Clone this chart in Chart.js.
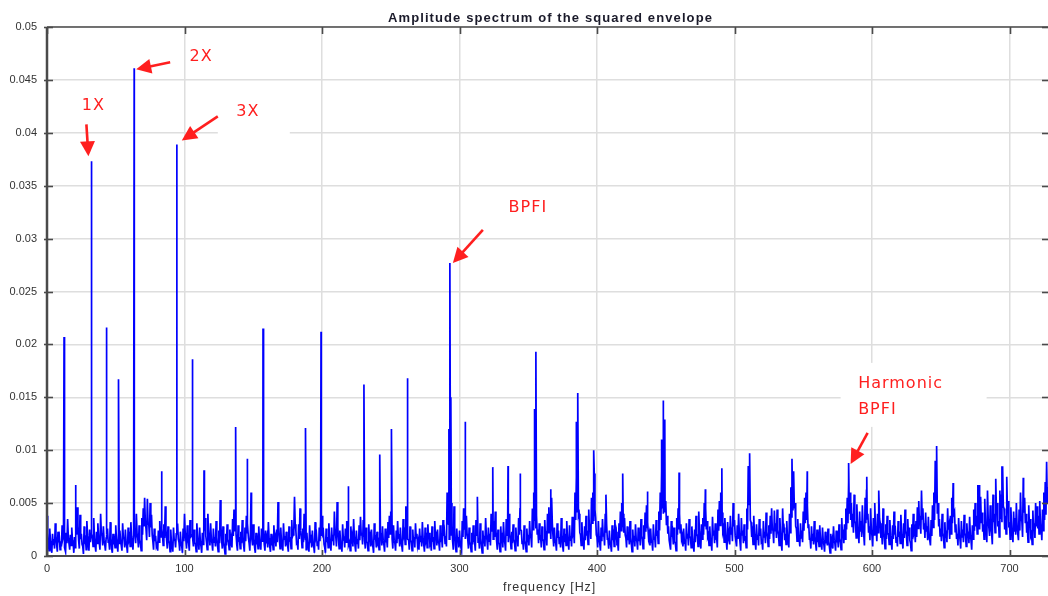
<!DOCTYPE html>
<html><head><meta charset="utf-8">
<script src="https://cdn.jsdelivr.net/npm/chart.js@4.4.1/dist/chart.umd.min.js"></script>
<style>html,body{margin:0;padding:0;background:#fff}#wrap{width:1048px;height:596px}</style>
</head><body><div id="wrap"><canvas id="c" width="1048" height="596"></canvas></div>
<script>
// ---------------- data ----------------
const chartTitle = 'Amplitude spectrum of the squared envelope';
const xAxisTitle = 'frequency [Hz]';

// noise floor of the spectrum, one value per Hz starting at 0 Hz
const freqStartHz = 0;
const freqStepHz = 1;
const noiseFloor = [
.0038,.0012,.0026,.0009,.0021,.0016,.0031,.0011,.0023,.0017,
.0014,.0029,.0019,.0008,.0022,.0035,.0012,.0020,.0027,.0013,
.0018,.0031,.0046,.0015,.0039,.0021,.0009,.0028,.0016,.0033,
.0012,.0025,.0020,.0018,.0036,.0010,.0023,.0031,.0013,.0040,
.0019,.0028,.0011,.0017,.0026,.0014,.0032,.0007,.0021,.0015,
.0029,.0012,.0022,.0024,.0010,.0031,.0016,.0025,.0009,.0027,
.0018,.0032,.0013,.0020,.0023,.0040,.0017,.0029,.0011,.0036,
.0045,.0055,.0026,.0054,.0031,.0050,.0039,.0014,.0026,.0019,
.0011,.0024,.0033,.0018,.0020,.0030,.0047,.0015,.0028,.0012,
.0025,.0010,.0027,.0016,.0021,.0030,.0013,.0023,.0009,.0026,
.0040,.0015,.0029,.0012,.0034,.0019,.0018,.0025,.0011,.0031,
.0014,.0027,.0009,.0022,.0017,.0036,.0013,.0040,.0020,.0031,
.0012,.0026,.0018,.0033,.0010,.0024,.0053,.0015,.0028,.0008,
.0021,.0030,.0013,.0025,.0017,.0035,.0044,.0024,.0011,.0029,
.0016,.0023,.0034,.0010,.0027,.0038,.0031,.0012,.0025,.0019,
.0030,.0008,.0022,.0015,.0028,.0013,.0026,.0037,.0011,.0024,
.0017,.0032,.0009,.0021,.0014,.0029,.0018,.0025,.0051,.0016,
.0027,.0012,.0031,.0019,.0023,.0010,.0028,.0016,.0034,.0020,
.0056,.0024,.0013,.0030,.0045,.0018,.0026,.0040,.0015,.0022,
.0011,.0029,.0017,.0024,.0009,.0032,.0020,.0014,.0027,.0035,
.0038,.0023,.0008,.0026,.0018,.0031,.0012,.0027,.0020,.0042,
.0019,.0051,.0015,.0024,.0011,.0030,.0017,.0026,.0033,.0021,
.0013,.0028,.0019,.0035,.0010,.0024,.0016,.0029,.0037,.0022,
.0034,.0015,.0027,.0012,.0030,.0019,.0025,.0009,.0031,.0018,
.0023,.0014,.0036,.0020,.0028,.0011,.0026,.0017,.0032,.0038,
.0042,.0016,.0029,.0012,.0024,.0033,.0019,.0027,.0010,.0035,
.0022,.0047,.0030,.0015,.0028,.0013,.0025,.0018,.0031,.0021,
.0014,.0026,.0019,.0032,.0011,.0027,.0017,.0030,.0022,.0013,
.0028,.0016,.0033,.0020,.0025,.0012,.0029,.0018,.0034,.0023,
.0019,.0060,.0030,.0036,.0050,.0014,.0047,.0010,.0026,.0018,
.0024,.0012,.0033,.0045,.0030,.0038,.0016,.0027,.0010,.0022,
.0029,.0013,.0034,.0025,.0017,.0031,.0009,.0024,.0019,.0036,
.0015,.0027,.0021,.0040,.0030,.0033,.0042,.0014,.0025,.0011,
.0028,.0018,.0032,.0012,.0035,.0026,.0040,.0016,.0023,.0030,
.0013,.0027,.0019,.0036,.0045,.0024,.0014,.0029,.0011,.0026,
.0020,.0033,.0017,.0045,.0060,.0047,.0038,.0025,.0031,.0018,
.0028,.0015,.0034,.0021,.0040,.0046,.0030,.0055,.0019,.0027,
.0012,.0031,.0024,.0018,.0036,.0010,.0026,.0021,.0033,.0015,
.0029,.0019,.0037,.0024,.0060,.0075,.0070,.0040,.0020,.0032,
.0014,.0028,.0038,.0022,.0044,.0030,.0055,.0060,.0078,.0036,
.0018,.0033,.0012,.0027,.0035,.0021,.0040,.0030,.0016,.0024,
.0010,.0029,.0019,.0034,.0023,.0013,.0031,.0042,.0050,.0040,
.0036,.0017,.0028,.0022,.0033,.0011,.0025,.0019,.0030,.0014,
.0027,.0020,.0035,.0016,.0029,.0041,.0048,.0032,.0021,.0026,
.0013,.0030,.0018,.0034,.0024,.0042,.0060,.0080,.0070,.0075,
.0052,.0038,.0028,.0015,.0033,.0022,.0027,.0012,.0036,.0045,
.0040,.0030,.0019,.0026,.0014,.0031,.0021,.0035,.0017,.0028,
.0011,.0025,.0038,.0019,.0042,.0016,.0030,.0036,.0050,.0045,
.0033,.0020,.0028,.0014,.0037,.0024,.0031,.0018,.0044,.0052,
.0060,.0041,.0026,.0036,.0015,.0032,.0022,.0038,.0027,.0050,
.0034,.0019,.0029,.0040,.0013,.0036,.0024,.0030,.0017,.0045,
.0085,.0060,.0032,.0022,.0038,.0015,.0030,.0020,.0035,.0026,
.0014,.0033,.0023,.0041,.0018,.0029,.0038,.0045,.0024,.0043,
.0031,.0044,.0020,.0036,.0012,.0045,.0027,.0021,.0033,.0016,
.0040,.0065,.0075,.0080,.0050,.0026,.0035,.0018,.0031,.0024,
.0042,.0055,.0060,.0048,.0030,.0016,.0028,.0021,.0033,.0012,
.0025,.0018,.0029,.0014,.0027,.0011,.0023,.0019,.0026,.0009,
.0021,.0015,.0028,.0012,.0024,.0017,.0030,.0013,.0036,.0022,
.0030,.0045,.0055,.0070,.0060,.0050,.0040,.0058,.0031,.0049,
.0024,.0042,.0033,.0048,.0020,.0055,.0062,.0040,.0028,.0045,
.0019,.0036,.0050,.0027,.0040,.0062,.0031,.0022,.0045,.0016,
.0030,.0038,.0021,.0034,.0014,.0029,.0042,.0025,.0018,.0033,
.0023,.0039,.0016,.0031,.0044,.0020,.0035,.0027,.0012,.0030,
.0040,.0025,.0033,.0046,.0052,.0038,.0062,.0045,.0031,.0041,
.0028,.0037,.0020,.0034,.0048,.0060,.0090,.0070,.0050,.0035,
.0026,.0040,.0018,.0032,.0024,.0045,.0029,.0038,.0055,.0069,
.0042,.0030,.0021,.0036,.0016,.0033,.0025,.0039,.0019,.0031,
.0023,.0037,.0015,.0029,.0044,.0050,.0038,.0067,.0045,.0056,
.0041,.0030,.0054,.0026,.0062,.0035,.0048,.0022,.0058,.0040,
.0073,.0050,.0033,.0062,.0058,.0084,.0045,.0038,.0075,.0052,
.0030,.0046,.0025,.0042,.0036,.0050,.0028,.0044,.0060,.0033,
.0074,.0055,.0040,.0026,.0048,.0035,.0021,.0043,.0031,.0050,
.0047,.0038,.0052,.0029,.0044,.0060,.0070,.0089,.0065,.0055
];

// noise floor at the half-Hz bins (0.5, 1.5, 2.5 ... Hz)
const noiseFloorHalf = [
.0022,.0005,.0014,.0003,.0011,.0007,.0019,.0004,.0013,.0006,
.0009,.0016,.0024,.0004,.0012,.0018,.0006,.0010,.0015,.0003,
.0008,.0020,.0028,.0007,.0016,.0011,.0002,.0014,.0006,.0019,
.0005,.0013,.0021,.0009,.0017,.0004,.0012,.0018,.0006,.0022,
.0010,.0015,.0005,.0020,.0013,.0006,.0017,.0003,.0011,.0008,
.0016,.0004,.0012,.0014,.0005,.0018,.0008,.0013,.0003,.0015,
.0009,.0018,.0006,.0025,.0012,.0021,.0008,.0016,.0005,.0020,
.0028,.0032,.0015,.0030,.0018,.0027,.0020,.0006,.0014,.0009,
.0005,.0013,.0019,.0026,.0010,.0017,.0025,.0007,.0015,.0004,
.0012,.0004,.0015,.0008,.0030,.0016,.0005,.0012,.0003,.0014,
.0022,.0007,.0016,.0005,.0018,.0020,.0009,.0013,.0004,.0017,
.0006,.0014,.0003,.0011,.0024,.0019,.0006,.0022,.0010,.0016,
.0005,.0013,.0009,.0018,.0004,.0012,.0028,.0007,.0014,.0002,
.0010,.0016,.0006,.0013,.0008,.0019,.0024,.0020,.0005,.0015,
.0007,.0012,.0018,.0004,.0014,.0022,.0017,.0005,.0024,.0010,
.0016,.0003,.0011,.0007,.0015,.0006,.0014,.0025,.0005,.0012,
.0008,.0017,.0004,.0010,.0006,.0015,.0009,.0013,.0027,.0007,
.0014,.0005,.0016,.0009,.0012,.0004,.0015,.0007,.0018,.0024,
.0030,.0012,.0006,.0016,.0024,.0008,.0013,.0022,.0006,.0011,
.0004,.0015,.0008,.0012,.0003,.0017,.0010,.0006,.0014,.0019,
.0021,.0011,.0003,.0013,.0008,.0016,.0005,.0014,.0010,.0023,
.0009,.0027,.0007,.0012,.0004,.0016,.0008,.0013,.0018,.0010,
.0005,.0015,.0009,.0019,.0004,.0012,.0007,.0015,.0020,.0011,
.0018,.0007,.0014,.0005,.0016,.0009,.0013,.0003,.0017,.0008,
.0012,.0006,.0019,.0010,.0015,.0004,.0013,.0008,.0017,.0021,
.0023,.0007,.0015,.0005,.0012,.0018,.0009,.0014,.0004,.0019,
.0011,.0026,.0016,.0006,.0015,.0005,.0013,.0008,.0017,.0010,
.0006,.0013,.0009,.0017,.0004,.0014,.0008,.0016,.0011,.0005,
.0015,.0007,.0018,.0010,.0013,.0005,.0016,.0008,.0019,.0012,
.0009,.0033,.0016,.0020,.0028,.0006,.0026,.0004,.0013,.0008,
.0012,.0005,.0018,.0025,.0016,.0021,.0007,.0014,.0004,.0011,
.0015,.0005,.0019,.0013,.0007,.0017,.0003,.0012,.0009,.0020,
.0006,.0014,.0010,.0023,.0016,.0018,.0024,.0006,.0013,.0004,
.0015,.0008,.0017,.0005,.0019,.0013,.0022,.0007,.0012,.0016,
.0005,.0014,.0009,.0020,.0025,.0012,.0006,.0015,.0004,.0013,
.0010,.0018,.0008,.0025,.0034,.0026,.0021,.0012,.0017,.0008,
.0015,.0006,.0019,.0010,.0022,.0026,.0016,.0031,.0009,.0014,
.0005,.0017,.0012,.0008,.0020,.0004,.0013,.0010,.0018,.0006,
.0015,.0009,.0021,.0012,.0034,.0042,.0038,.0022,.0010,.0017,
.0006,.0015,.0021,.0011,.0025,.0016,.0031,.0034,.0044,.0020,
.0008,.0018,.0005,.0014,.0019,.0010,.0022,.0016,.0007,.0012,
.0004,.0015,.0009,.0019,.0012,.0005,.0017,.0024,.0028,.0022,
.0020,.0008,.0015,.0011,.0018,.0004,.0013,.0009,.0016,.0006,
.0014,.0010,.0019,.0007,.0016,.0023,.0027,.0017,.0010,.0013,
.0005,.0016,.0008,.0019,.0012,.0024,.0034,.0045,.0040,.0042,
.0029,.0021,.0015,.0006,.0018,.0011,.0014,.0005,.0020,.0025,
.0022,.0016,.0009,.0013,.0005,.0017,.0010,.0019,.0008,.0015,
.0004,.0013,.0021,.0009,.0023,.0007,.0016,.0020,.0028,.0025,
.0018,.0010,.0015,.0005,.0020,.0012,.0017,.0008,.0024,.0029,
.0034,.0023,.0013,.0020,.0006,.0018,.0011,.0021,.0014,.0028,
.0019,.0009,.0016,.0022,.0005,.0020,.0012,.0016,.0008,.0025,
.0048,.0034,.0018,.0011,.0021,.0006,.0016,.0010,.0019,.0013,
.0006,.0018,.0012,.0023,.0009,.0016,.0021,.0025,.0012,.0024,
.0017,.0025,.0010,.0020,.0005,.0025,.0015,.0011,.0018,.0008,
.0022,.0037,.0043,.0045,.0028,.0014,.0019,.0009,.0017,.0013,
.0024,.0031,.0034,.0027,.0016,.0007,.0015,.0011,.0018,.0005,
.0013,.0009,.0016,.0006,.0015,.0004,.0012,.0010,.0014,.0003,
.0011,.0007,.0015,.0005,.0013,.0008,.0017,.0006,.0020,.0012,
.0016,.0025,.0031,.0040,.0034,.0028,.0022,.0033,.0017,.0027,
.0012,.0023,.0018,.0027,.0010,.0031,.0035,.0022,.0015,.0025,
.0009,.0020,.0028,.0014,.0022,.0035,.0017,.0011,.0025,.0007,
.0016,.0021,.0011,.0019,.0006,.0016,.0023,.0013,.0009,.0018,
.0012,.0021,.0007,.0017,.0025,.0010,.0019,.0015,.0005,.0016,
.0022,.0013,.0018,.0026,.0029,.0021,.0035,.0025,.0017,.0023,
.0015,.0020,.0010,.0019,.0027,.0034,.0050,.0040,.0028,.0019,
.0014,.0022,.0008,.0017,.0013,.0025,.0016,.0021,.0031,.0039,
.0023,.0016,.0010,.0020,.0007,.0018,.0013,.0022,.0009,.0017,
.0012,.0020,.0006,.0016,.0024,.0028,.0021,.0038,.0025,.0031,
.0023,.0016,.0030,.0013,.0035,.0019,.0027,.0011,.0032,.0022,
.0041,.0028,.0018,.0035,.0032,.0047,.0025,.0021,.0042,.0029,
.0016,.0026,.0013,.0023,.0020,.0028,.0015,.0024,.0034,.0018,
.0041,.0031,.0022,.0013,.0027,.0019,.0011,.0024,.0017,.0028,
.0026,.0021,.0029,.0015,.0024,.0034,.0039,.0050,.0036,.0030
];

// discrete spectral lines (frequency in Hz, amplitude)
const peakFreqs = [12.4, 20.8, 32.3, 43.2, 52.0, 63.4, 83.4, 94.4, 105.7, 114.2,
  137.2, 145.5, 148.4, 157.1, 188.0, 199.3, 219.0, 230.5, 242.0, 250.5, 262.0,
  292.3, 293.0, 293.7, 304.0, 313.0, 324.2, 335.3, 344.0, 354.6, 355.6, 366.3,
  385.0, 386.0, 397.6, 406.5, 418.7, 436.6, 447.0, 448.0, 449.3, 459.7, 478.8,
  490.8, 511.0, 541.8, 552.9, 583.0, 596.2, 604.8, 636.0, 647.0, 659.0, 678.0,
  694.5, 710.0, 727.0];
const peakAmps = [.0207, .0067, .0373, .0216, .0167, .0461, .0080, .0389, .0186, .0081,
  .0122, .0092, .0060, .0215, .0121, .0212, .0066, .0162, .0096, .0120, .0168,
  .0120, .0277, .0150, .0127, .0056, .0084, .0085, .0078, .0139, .0193, .0063,
  .0127, .0154, .0100, .0058, .0078, .0061, .0110, .0147, .0129, .0079, .0063,
  .0083, .0097, .0092, .0080, .0088, .0075, .0062, .0062, .0104, .0069, .0067,
  .0084, .0074, .0089];

// axes
const xMin = 0, xMax = 728;
const xTickValues = [0, 100, 200, 300, 400, 500, 600, 700];
const xTickLabels = ['0', '100', '200', '300', '400', '500', '600', '700'];
const yMin = 0, yMax = 0.05;
const yTickValues = [0, 0.005, 0.01, 0.015, 0.02, 0.025, 0.03, 0.035, 0.04, 0.045, 0.05];
const yTickLabels = ['0', '0.005', '0.01', '0.015', '0.02', '0.025', '0.03', '0.035', '0.04', '0.045', '0.05'];

// annotations: label text and the spectral line (Hz, amplitude) they point at
const annotTexts = [['1X'], ['2X'], ['3X'], ['BPFI'], ['Harmonic', 'BPFI']];
const annotFreqs = [32.3, 63.4, 94.4, 293.0, 583.0];
const annotAmps = [.0373, .0461, .0389, .0277, .0088];

// ---------------- layout / style (pixel offsets from the pointed line) ----------------
const annotLayout = [
  {tip: [-3, -5], tail: [-5, -37], text: [2, -56], align: 'center'},
  {tip: [2, 1], tail: [36, -6], text: [67, -11], align: 'center'},
  {tip: [5, -4], tail: [41, -28], text: [71, -33], align: 'center', box: [41, -44, 72, 36]},
  {tip: [3, 0], tail: [33, -33], text: [78, -55], align: 'center'},
  {tip: [2, 1], tail: [19, -30], text: [9.5, -79], align: 'left', box: [-8, -100, 146, 64]}
];
const RED = '#ff1f1f';
const AXIS = '#4a4a4a';
const TEXT = '#333333';

// ---------------- build series ----------------
const points = [];
noiseFloor.forEach((a, i) => points.push({x: freqStartHz + i * freqStepHz, y: a}));
noiseFloorHalf.forEach((a, i) => points.push({x: freqStartHz + (i + 0.5) * freqStepHz, y: a}));
peakFreqs.forEach((f, i) => points.push({x: f, y: peakAmps[i]}));
points.sort((p, q) => p.x - q.x);

function drawArrow(ctx, x1, y1, x2, y2) {
  const ang = Math.atan2(y2 - y1, x2 - x1);
  const L = 15, W = 7.5;
  const c = Math.cos(ang), s = Math.sin(ang);
  const bx = x2 - L * c, by = y2 - L * s;
  ctx.strokeStyle = RED; ctx.fillStyle = RED; ctx.lineWidth = 2.6;
  ctx.beginPath(); ctx.moveTo(x1, y1); ctx.lineTo(bx + c, by + s); ctx.stroke();
  ctx.beginPath();
  ctx.moveTo(x2, y2);
  ctx.lineTo(bx + W * s, by - W * c);
  ctx.lineTo(bx - W * s, by + W * c);
  ctx.closePath(); ctx.fill();
}

const decorPlugin = {
  id: 'decor',
  beforeDatasetsDraw(chart) {
    const ctx = chart.ctx, xs = chart.scales.x, ys = chart.scales.y;
    ctx.save();
    ctx.fillStyle = '#ffffff';
    annotLayout.forEach((L, i) => {
      if (!L.box) return;
      const px = xs.getPixelForValue(annotFreqs[i]), py = ys.getPixelForValue(annotAmps[i]);
      ctx.fillRect(px + L.box[0], py + L.box[1], L.box[2], L.box[3]);
    });
    ctx.restore();
  },
  afterDatasetsDraw(chart) {
    const ctx = chart.ctx, a = chart.chartArea, xs = chart.scales.x, ys = chart.scales.y;
    ctx.save();
    ctx.strokeStyle = AXIS;
    ctx.lineWidth = 2.5;
    ctx.beginPath(); ctx.moveTo(a.left, a.top); ctx.lineTo(a.left, a.bottom + 1); ctx.stroke();
    ctx.lineWidth = 2;
    ctx.beginPath(); ctx.moveTo(a.left, a.bottom); ctx.lineTo(a.right, a.bottom); ctx.stroke();
    ctx.lineWidth = 1.6;
    ctx.beginPath(); ctx.moveTo(a.left, a.top); ctx.lineTo(a.right, a.top); ctx.stroke();
    ctx.lineWidth = 1.6;
    xTickValues.forEach(v => {
      const x = Math.round(xs.getPixelForValue(v)) + 0.5;
      ctx.beginPath(); ctx.moveTo(x, a.bottom); ctx.lineTo(x, a.bottom - 6); ctx.stroke();
      ctx.beginPath(); ctx.moveTo(x, a.top); ctx.lineTo(x, a.top + 7); ctx.stroke();
    });
    yTickValues.forEach(v => {
      const y = Math.round(ys.getPixelForValue(v)) + 0.5;
      ctx.beginPath(); ctx.moveTo(a.left - 3, y); ctx.lineTo(a.left + 6, y); ctx.stroke();
      ctx.beginPath(); ctx.moveTo(a.right - 6, y); ctx.lineTo(a.right, y); ctx.stroke();
    });
    annotLayout.forEach((L, i) => {
      const px = xs.getPixelForValue(annotFreqs[i]), py = ys.getPixelForValue(annotAmps[i]);
      drawArrow(ctx, px + L.tail[0], py + L.tail[1], px + L.tip[0], py + L.tip[1]);
      ctx.fillStyle = RED;
      ctx.font = '16px "DejaVu Sans"';
      try { ctx.letterSpacing = '1px'; } catch (e) {}
      ctx.textAlign = L.align; ctx.textBaseline = 'middle';
      annotTexts[i].forEach((t, k) => ctx.fillText(t, px + L.text[0], py + L.text[1] + k * 26));
      try { ctx.letterSpacing = '0px'; } catch (e) {}
    });
    ctx.restore();
  },
  afterDraw(chart) {
    const ctx = chart.ctx, a = chart.chartArea;
    ctx.save();
    ctx.fillStyle = '#1a1a2a';
    ctx.font = 'bold 13px "Liberation Sans"';
    ctx.textAlign = 'center'; ctx.textBaseline = 'middle';
    try { ctx.letterSpacing = '1.1px'; } catch (e) {}
    ctx.fillText(chartTitle, (a.left + a.right) / 2 + 3, 18);
    ctx.fillStyle = TEXT;
    ctx.font = '12.5px "Liberation Sans"';
    try { ctx.letterSpacing = '0.9px'; } catch (e) {}
    ctx.fillText(xAxisTitle, (a.left + a.right) / 2 + 2, 588);
    ctx.restore();
  }
};

new Chart(document.getElementById('c'), {
  type: 'line',
  data: {datasets: [{
    data: points,
    borderColor: '#0000ff',
    borderWidth: 1.7,
    pointRadius: 0,
    tension: 0,
    fill: false
  }]},
  options: {
    responsive: false,
    animation: false,
    devicePixelRatio: 1,
    parsing: false,
    normalized: true,
    layout: {padding: {top: 27, right: 0, left: 0, bottom: 0}},
    plugins: {legend: {display: false}, tooltip: {enabled: false}, title: {display: false}},
    scales: {
      x: {
        type: 'linear', min: xMin, max: xMax,
        afterBuildTicks: s => { s.ticks = xTickValues.map(v => ({value: v})); },
        afterFit: s => { s.height = 40; },
        grid: {color: '#dedede', lineWidth: 1.5, drawTicks: false},
        border: {display: false},
        ticks: {
          padding: 6, color: TEXT, font: {family: 'Liberation Sans', size: 11},
          maxRotation: 0, autoSkip: false,
          callback: (v, i) => xTickLabels[i]
        }
      },
      y: {
        type: 'linear', min: yMin, max: yMax,
        afterBuildTicks: s => { s.ticks = yTickValues.map(v => ({value: v})); },
        afterFit: s => { s.width = 47; },
        grid: {color: '#dedede', lineWidth: 1.5, drawTicks: false},
        border: {display: false},
        ticks: {
          padding: 10, color: TEXT, font: {family: 'Liberation Sans', size: 11},
          autoSkip: false,
          callback: (v, i) => yTickLabels[i]
        }
      }
    }
  },
  plugins: [decorPlugin]
});
</script>
</body></html>
